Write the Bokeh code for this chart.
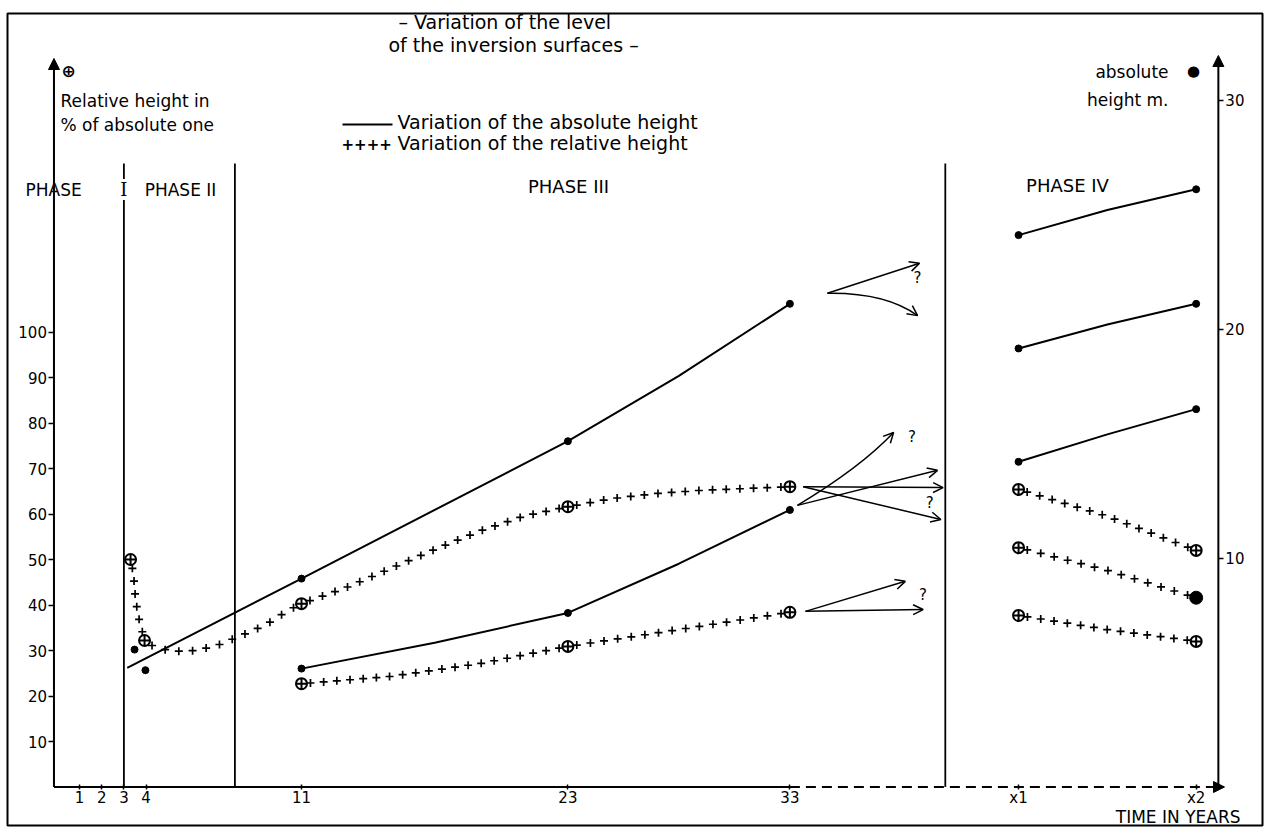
import math
from bokeh.plotting import figure
from bokeh.models import Range1d, LinearAxis, FixedTicker, Label, Arrow, NormalHead, OpenHead
from bokeh.embed import file_html
from bokeh.resources import INLINE

# ---------------- data ----------------
YEAR_TICKS = [1, 2, 3, 4, 11, 23, 33]
X1_POS, X2_POS = 43.3, 51.3            # the undated years "x1" and "x2"
YEAR_LABELS = {43.3: "x1", 51.3: "x2"}
REL_TICKS = [10, 20, 30, 40, 50, 60, 70, 80, 90, 100]
ABS_TICKS = [10, 20, 30]

PHASE_BOUNDS = [3, 8, 40]              # years of the phase boundaries

# absolute height of the inversion surfaces (m, right axis)
abs_a_years = [3.15, 11, 23, 28, 33]
abs_a_m = [5.2, 9.1, 15.1, 17.95, 21.1]
abs_b_years = [11, 17, 23, 28, 33]
abs_b_m = [5.17, 6.3, 7.6, 9.75, 12.1]
abs_marked_years = [11, 23, 33]
abs_early_years = [3.48, 3.97]
abs_early_m = [6.0, 5.1]
p4_years = [43.3, 47.3, 51.3]
p4_abs_1 = [24.1, 25.2, 26.1]
p4_abs_2 = [19.15, 20.2, 21.1]
p4_abs_3 = [14.2, 15.4, 16.5]

# relative height (% of the absolute one, left axis)
rel_a_years = [3.3, 3.43, 3.52, 3.65, 3.93, 4.33, 5.0, 5.64, 6.2, 6.86, 7.44, 7.94, 8.48,
               9.0, 9.47, 9.92, 10.4, 11, 13, 15, 17, 19, 21, 23, 25, 27, 29, 31, 33]
rel_a_pct = [50.0, 46.9, 41.4, 37.5, 32.2, 30.9, 30.0, 29.8, 30.0, 30.7, 31.5, 32.6, 33.7,
             34.8, 35.9, 37.3, 38.8, 40.3, 43.8, 48.0, 52.2, 56.2, 59.5, 61.6, 63.4, 64.5, 65.2, 65.6, 66.0]
rel_a_marked = [3.3, 3.93, 11, 23, 33]
rel_b_years = [11, 15, 19, 23, 28, 33]
rel_b_pct = [22.7, 24.3, 27.1, 30.9, 34.6, 38.4]
rel_b_marked = [11, 23, 33]
p4_rel_1 = [65.4, 59.5, 52.0]
p4_rel_2 = [52.6, 47.6, 41.6]
p4_rel_3 = [37.7, 34.6, 32.0]

# prognosis arrows after year 33 (year, % on left scale)
arrows_straight = [((34.69, 108.5), (38.84, 115.1)),
                   ((33.34, 61.9), (39.65, 69.6)),
                   ((33.6, 66.0), (39.9, 65.8)),
                   ((33.6, 66.0), (39.8, 58.8)),
                   ((33.7, 38.6), (38.2, 45.2)),
                   ((33.7, 38.6), (39.0, 39.0))]
arrows_curved = [((34.69, 108.5), (37.3, 108.7), (38.75, 103.6)),
                 ((33.34, 61.9), (36.18, 70.2), (37.67, 77.9))]
question_marks = [(38.75, 111.8), (38.5, 77.0), (39.3, 62.5), (39.0, 42.3)]

# ---------------- layout ----------------
W, H = 1264, 828
FL, FR, FT, FB = 7, 1262, 13, 825          # frame (border) in page pixels
PX_T, PX_V, PX_M = 22.2, 4.55, 22.9
def tx(px): return 11 + (px - 301) / PX_T
def vy(py): return (786.5 - py) / PX_V
def my(py): return (786.5 - py) / PX_M
AXIS_T = -0.15
RIGHT_T = 52.3
FONT = "DejaVu Sans"

p = figure(width=W, height=H, x_range=Range1d(tx(FL), tx(FR)), y_range=Range1d(vy(FB), vy(FT)),
           output_backend="svg", toolbar_location=None,
           min_border_left=FL, min_border_right=W - FR, min_border_top=FT, min_border_bottom=H - FB)
p.extra_y_ranges = {"abs": Range1d(my(FB), my(FT))}
p.grid.visible = False
p.outline_line_color = "black"
p.outline_line_width = 2
p.background_fill_color = "white"
p.border_fill_color = "white"

# x axis
xa = p.xaxis[0]
xa.fixed_location = 0
xa.ticker = FixedTicker(ticks=YEAR_TICKS + [X1_POS, X2_POS])
xa.major_label_overrides = YEAR_LABELS
xa.axis_line_color = None
xa.minor_tick_line_color = None
xa.major_tick_in = 3
xa.major_tick_out = 2
xa.major_tick_line_width = 1.5
xa.major_label_standoff = 0
xa.major_label_text_font = FONT
xa.major_label_text_font_size = "15px"
xa.major_label_text_color = "black"

# left axis
ya = p.yaxis[0]
ya.fixed_location = AXIS_T
ya.ticker = FixedTicker(ticks=REL_TICKS)
ya.axis_line_color = None
ya.minor_tick_line_color = None
ya.major_tick_in = 0
ya.major_tick_out = 5
ya.major_tick_line_width = 1.5
ya.major_label_standoff = 2
ya.major_label_text_font = FONT
ya.major_label_text_font_size = "15px"
ya.major_label_text_color = "black"

# right axis
ra = LinearAxis(y_range_name="abs", fixed_location=RIGHT_T, ticker=FixedTicker(ticks=ABS_TICKS),
                axis_line_color=None, minor_tick_line_color=None, major_tick_in=0, major_tick_out=5,
                major_tick_line_width=1.5, major_label_standoff=2, major_label_text_font=FONT,
                major_label_text_font_size="15px", major_label_text_color="black")
p.add_layout(ra, "right")

# axis lines with arrows
p.add_layout(Arrow(x_start=AXIS_T, y_start=0, x_end=AXIS_T, y_end=vy(58), line_width=2,
                   end=NormalHead(size=11, fill_color="black", line_color="black")))
p.add_layout(Arrow(x_start=RIGHT_T, y_start=0, x_end=RIGHT_T, y_end=my(55),
                   y_range_name="abs", line_width=2,
                   end=NormalHead(size=11, fill_color="black", line_color="black")))
p.segment(x0=[AXIS_T], y0=[0], x1=[YEAR_TICKS[-1]], y1=[0], line_width=2, line_color="black")
p.add_layout(Arrow(x_start=YEAR_TICKS[-1], y_start=0, x_end=tx(1224), y_end=0, line_width=2,
                   line_dash="10 6", end=NormalHead(size=11, fill_color="black", line_color="black")))

# phase boundaries
PH_TOP = vy(163)
p.segment(x0=PHASE_BOUNDS, y0=[0] * 3, x1=PHASE_BOUNDS, y1=[PH_TOP] * 3, line_width=1.8, line_color="black")

# ---------------- helpers ----------------
def pieces(ts, vs, marks):
    idx = [i for i, t in enumerate(ts) if t in marks]
    if not idx or idx[0] != 0:
        idx = [0] + idx
    if idx[-1] != len(ts) - 1:
        idx.append(len(ts) - 1)
    for a, b in zip(idx[:-1], idx[1:]):
        yield ts[a:b + 1], vs[a:b + 1]

def crosses_along(ts, vs, spacing=13.5, gap=9.0):
    pts = [(t * PX_T, v * PX_V) for t, v in zip(ts, vs)]
    seg = [math.dist(pts[i], pts[i + 1]) for i in range(len(pts) - 1)]
    total = sum(seg)
    usable = total - 2 * gap
    if usable <= 0:
        return [], []
    n = max(1, round(usable / spacing))
    step = usable / n
    out_t, out_v = [], []
    for k in range(n + 1):
        s = gap + k * step
        acc = 0.0
        for i, L in enumerate(seg):
            if acc + L >= s or i == len(seg) - 1:
                f = (s - acc) / L if L else 0
                out_t.append(ts[i] + f * (ts[i + 1] - ts[i]))
                out_v.append(vs[i] + f * (vs[i + 1] - vs[i]))
                break
            acc += L
    return out_t, out_v

def rel_series(ts, vs, marks):
    ct, cv = [], []
    for a, b in pieces(ts, vs, marks):
        t_, v_ = crosses_along(a, b)
        ct += t_
        cv += v_
    p.scatter(ct, cv, marker="cross", size=8, line_width=1.7, line_color="black")

def circled(ts, vs):
    p.scatter(ts, vs, marker="circle_cross", size=11, line_width=2, line_color="black", fill_color="white")

# ---------------- absolute heights (solid) ----------------
kw_abs = dict(y_range_name="abs", line_width=2, line_color="black")
p.line(abs_a_years, abs_a_m, **kw_abs)
p.line(abs_b_years, abs_b_m, **kw_abs)
for ser in (p4_abs_1, p4_abs_2, p4_abs_3):
    p.line(p4_years, ser, **kw_abs)
    p.scatter([p4_years[0], p4_years[-1]], [ser[0], ser[-1]], y_range_name="abs", size=7, color="black")
for yrs, ser in ((abs_a_years, abs_a_m), (abs_b_years, abs_b_m)):
    mt = [t for t in yrs if t in abs_marked_years]
    mv = [v for t, v in zip(yrs, ser) if t in abs_marked_years]
    p.scatter(mt, mv, y_range_name="abs", size=7, color="black")
p.scatter(abs_early_years, abs_early_m, y_range_name="abs", size=7, color="black")

# ---------------- relative heights (crosses) ----------------
rel_series(rel_a_years, rel_a_pct, rel_a_marked)
rel_series(rel_b_years, rel_b_pct, rel_b_marked)
circled([t for t in rel_a_years if t in rel_a_marked], [v for t, v in zip(rel_a_years, rel_a_pct) if t in rel_a_marked])
circled([t for t in rel_b_years if t in rel_b_marked], [v for t, v in zip(rel_b_years, rel_b_pct) if t in rel_b_marked])
for ser in (p4_rel_1, p4_rel_2, p4_rel_3):
    rel_series(p4_years, ser, [p4_years[0], p4_years[-1]])
circled([p4_years[0]] * 3, [p4_rel_1[0], p4_rel_2[0], p4_rel_3[0]])
circled([p4_years[-1]] * 2, [p4_rel_1[-1], p4_rel_3[-1]])
p.scatter([p4_years[-1]], [p4_rel_2[-1]], size=13, color="black")

# ---------------- prognosis arrows ----------------
for (a, b) in arrows_straight:
    p.add_layout(Arrow(x_start=a[0], y_start=a[1], x_end=b[0], y_end=b[1], line_width=1.5,
                       end=OpenHead(size=10, line_width=1.5)))
for (a, c, b) in arrows_curved:
    p.quadratic(x0=[a[0]], y0=[a[1]], x1=[b[0]], y1=[b[1]], cx=[c[0]], cy=[c[1]], line_width=1.5, line_color="black")
    p.add_layout(Arrow(x_start=b[0] - 0.05 * (b[0] - c[0]), y_start=b[1] - 0.05 * (b[1] - c[1]),
                       x_end=b[0], y_end=b[1], line_width=1.5, end=OpenHead(size=10, line_width=1.5)))
for (qt, qv) in question_marks:
    p.add_layout(Label(x=qt, y=qv, text="?", text_align="center", text_baseline="middle",
                       text_font=FONT, text_font_size="15px", text_color="black"))

# ---------------- texts ----------------
def lab(text, px, py, size="16px", align="left", **kw):
    p.add_layout(Label(x=tx(px), y=vy(py), text=text, text_align=align, text_baseline="middle",
                       text_font=FONT, text_font_size=size, text_color="black", **kw))

lab("– Variation of the level", 398, 21, "19px")
lab("of  the inversion surfaces –", 388, 44, "19px")
lab("⊕", 68, 70, "17px", "center", text_font_style="bold")
lab("Relative height in", 60, 100, "17px")
lab("% of absolute one", 60, 124, "17px")
lab("●", 1193, 70, "15px", "center")
lab("absolute", 1168, 71, "17px", "right")
lab("height m.", 1168, 99, "17px", "right")
p.segment(x0=[tx(342)], y0=[vy(124)], x1=[tx(392)], y1=[vy(124)], line_width=2, line_color="black")
lab("Variation of the absolute height", 397, 121, "19px")
lab("++++", 341, 143, "15px", text_font_style="bold")
lab("Variation of the relative  height", 397, 142, "19px")
lab("PHASE", 25, 189, "17px")
p.add_layout(Label(x=PHASE_BOUNDS[0], y=vy(189), text="I", text_align="center", text_baseline="middle",
                   text_font="DejaVu Serif", text_font_size="18px", text_color="black",
                   background_fill_color="white"))
lab("PHASE II", 180, 189, "17px", "center")
lab("PHASE III", 568, 186, "18px", "center")
lab("PHASE IV", 1067, 185, "18px", "center")
lab("TIME IN YEARS", 1240, 816, "17px", "right")

open("out.html", "w").write(file_html(p, INLINE))
